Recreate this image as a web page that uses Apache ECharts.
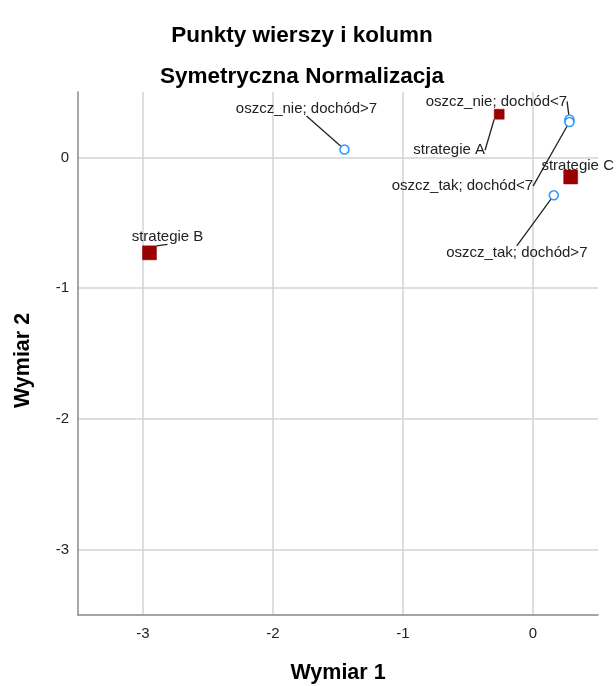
<!DOCTYPE html>
<html>
<head>
<meta charset="utf-8">
<script src="https://cdn.jsdelivr.net/npm/echarts@6/dist/echarts.min.js"></script>
<style>
  html, body { margin: 0; padding: 0; background: #fff; }
  #chart { width: 616px; height: 686px; }
</style>
</head>
<body>
<div id="chart"></div>
<script>
// punkty wierszy (strategie)
const rowNames = ['strategie A', 'strategie B', 'strategie C']
const rowX = [-0.26, -2.95, 0.29]
const rowY = [0.33, -0.73, -0.15]
// punkty kolumn
const colNames = ['oszcz_nie; dochód<7', 'oszcz_tak; dochód<7', 'oszcz_tak; dochód>7', 'oszcz_nie; dochód>7']
const colX = [0.28, 0.28, 0.16, -1.45]
const colY = [0.29, 0.27, -0.29, 0.06]
// podziałka osi
const xTicks = [-3, -2, -1, 0]
const yTicks = [-3, -2, -1, 0]

// przesunięcia etykiet (tylko wygląd)
const rowLabelShift = [[-50, 36], [18, -16], [7, -11]]
const rowSizes = [10, 14, 14]
const colLabelShift = [[-73, -18], [-107, 64], [-37, 58], [-38, -41]]

const chart = echarts.init(document.getElementById('chart'))

const labelFont = { fontFamily: 'Liberation Sans', fontSize: 15, color: '#222' }
const boldFont = { fontFamily: 'Liberation Sans', fontWeight: 'bold', color: '#000' }

const rowData = rowNames.map((n, i) => ({
  name: n,
  value: [rowX[i], rowY[i]],
  symbolSize: rowSizes[i]
}))
const colData = colNames.map((n, i) => ({
  name: n,
  value: [colX[i], colY[i]]
}))

const option = {
  animation: false,
  title: [
    {
      text: 'Punkty wierszy i kolumn',
      left: 297, top: 19, textAlign: 'center',
      textStyle: { ...boldFont, fontSize: 22.5 }
    },
    {
      text: 'Symetryczna Normalizacja',
      left: 297, top: 60, textAlign: 'center',
      textStyle: { ...boldFont, fontSize: 22.5 }
    }
  ],
  grid: { left: 78, right: 18, top: 92, bottom: 71, outerBoundsMode: 'none' },
  xAxis: {
    type: 'value',
    min: -3.5, max: 0.5,
    name: 'Wymiar 1',
    nameLocation: 'middle',
    nameGap: 47,
    nameTextStyle: { ...boldFont, fontSize: 21.5 },
    axisLine: { show: true, onZero: false, lineStyle: { color: '#888', width: 1.5 } },
    axisTick: { show: false, customValues: xTicks },
    axisLabel: { customValues: xTicks, margin: 11, ...labelFont },
    splitLine: { show: true, lineStyle: { color: '#d3d3d3', width: 1.5 } }
  },
  yAxis: {
    type: 'value',
    min: -3.5, max: 0.5,
    name: 'Wymiar 2',
    nameLocation: 'middle',
    nameGap: 44,
    nameTextStyle: { ...boldFont, fontSize: 21.5, padding: [0, 14, 0, 0] },
    axisLine: { show: true, onZero: false, lineStyle: { color: '#888', width: 1.5 } },
    axisTick: { show: false, customValues: yTicks },
    axisLabel: { customValues: yTicks, margin: 9, ...labelFont },
    splitLine: { show: true, lineStyle: { color: '#d3d3d3', width: 1.5 } }
  },
  series: [
    {
      name: 'wiersze',
      type: 'scatter',
      symbol: 'rect',
      data: rowData,
      itemStyle: { color: '#990000', borderColor: '#990000', borderWidth: 0.5, opacity: 1 },
      label: { show: true, position: 'inside', formatter: '{b}', ...labelFont },
      labelLine: { show: true, lineStyle: { color: '#222', width: 1.3 } },
      labelLayout: (p) => ({ dx: rowLabelShift[p.dataIndex][0], dy: rowLabelShift[p.dataIndex][1] }),
      z: 3
    },
    {
      name: 'kolumny',
      type: 'scatter',
      symbol: 'circle',
      symbolSize: 9,
      data: colData,
      itemStyle: { color: '#fff', borderColor: '#3399ff', borderWidth: 1.6, opacity: 1 },
      label: { show: true, position: 'inside', formatter: '{b}', ...labelFont },
      labelLine: { show: true, lineStyle: { color: '#222', width: 1.3 } },
      labelLayout: (p) => ({ dx: colLabelShift[p.dataIndex][0], dy: colLabelShift[p.dataIndex][1] }),
      z: 4
    }
  ]
}

chart.setOption(option)
</script>
</body>
</html>
